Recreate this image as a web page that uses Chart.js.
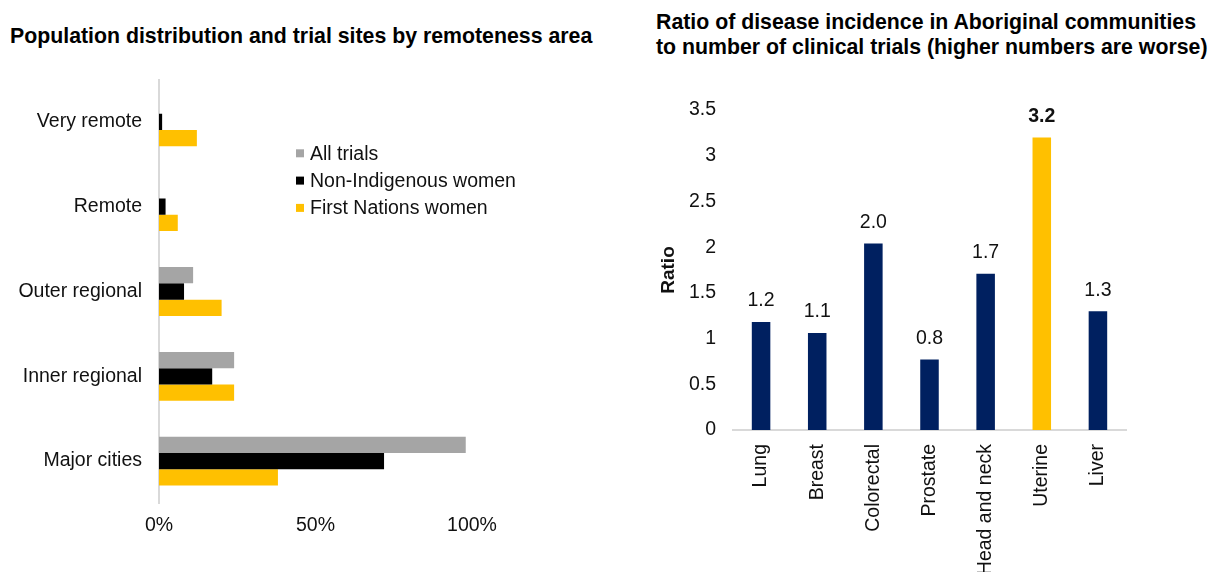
<!DOCTYPE html>
<html><head><meta charset="utf-8">
<script src="https://cdn.jsdelivr.net/npm/chart.js@4"></script>
<style>
html,body{margin:0;padding:0;background:#fff;width:1212px;height:572px;overflow:hidden;font-family:"Liberation Sans",Arial,sans-serif;}
.title{position:absolute;font-weight:bold;font-size:21.3px;line-height:25px;color:#000;white-space:nowrap;}
#t1{left:10px;top:24px;}
#t2{left:656px;top:9.5px;}
canvas{position:absolute;top:0;}
#c1{left:0;}
#c2{left:600px;}
</style></head>
<body>
<div class="title" id="t1">Population distribution and trial sites by remoteness area</div>
<div class="title" id="t2">Ratio of disease incidence in Aboriginal communities<br>to number of clinical trials (higher numbers are worse)</div>
<canvas id="c1" width="600" height="572"></canvas>
<canvas id="c2" width="612" height="572"></canvas>
<script>
// ---- Left chart data ----
const regions = ['Very remote', 'Remote', 'Outer regional', 'Inner regional', 'Major cities'];
const allTrials = [0, 0, 10.9, 24, 98];
const nonIndigenous = [1, 2.1, 8, 17, 71.9];
const firstNations = [12.1, 6, 20, 24, 38];
const seriesNames = ['All trials', 'Non-Indigenous women', 'First Nations women'];
const pctTicks = [0, 50, 100];

// ---- Right chart data ----
const cancers = ['Lung', 'Breast', 'Colorectal', 'Prostate', 'Head and neck', 'Uterine', 'Liver'];
const ratios = [1.18, 1.06, 2.04, 0.77, 1.71, 3.2, 1.3];
const ratioTicks = [0, 0.5, 1, 1.5, 2, 2.5, 3, 3.5];
const highlighted = 'Uterine';

const FAMILY = '"Liberation Sans", Arial, sans-serif';
const TXT = '#111';
const GRAY = '#A5A5A5', BLACK = '#000000', YELLOW = '#FFC000', NAVY = '#002060', AXIS = '#D9D9D9';

const legendPlugin = {
  id: 'customLegend',
  afterDraw(chart) {
    const ctx = chart.ctx;
    const rowsY = [153.3, 180.6, 207.9];
    ctx.save();
    ctx.font = '19.5px ' + FAMILY;
    ctx.textBaseline = 'middle';
    ctx.textAlign = 'left';
    chart.data.datasets.forEach((ds, i) => {
      ctx.fillStyle = ds.backgroundColor;
      ctx.fillRect(296, rowsY[i] - 4, 8, 8);
      ctx.fillStyle = TXT;
      ctx.fillText(ds.label, 310, rowsY[i] + 1);
    });
    ctx.restore();
  }
};

new Chart(document.getElementById('c1'), {
  type: 'bar',
  data: {
    labels: regions,
    datasets: [
      { label: seriesNames[0], data: allTrials, backgroundColor: GRAY },
      { label: seriesNames[1], data: nonIndigenous, backgroundColor: BLACK },
      { label: seriesNames[2], data: firstNations, backgroundColor: YELLOW }
    ]
  },
  options: {
    indexAxis: 'y',
    responsive: false,
    maintainAspectRatio: false,
    animation: false,
    layout: { padding: { left: 9, top: 79.5, right: 128, bottom: 28.5 } },
    plugins: { legend: { display: false }, tooltip: { enabled: false } },
    datasets: { bar: { categoryPercentage: 0.576, barPercentage: 1 } },
    scales: {
      x: {
        min: pctTicks[0], max: pctTicks[pctTicks.length - 1],
        afterBuildTicks(s) { s.ticks = pctTicks.map(v => ({ value: v })); },
        ticks: { callback: v => v + '%', padding: 10, color: TXT, font: { size: 19.5, family: FAMILY } },
        grid: { display: false, drawTicks: false },
        border: { display: false },
        afterFit(s) { s.height = 40; }
      },
      y: {
        ticks: { padding: 17, color: TXT, font: { size: 19.5, family: FAMILY } },
        grid: { display: false, drawTicks: false },
        border: { display: true, color: AXIS, width: 2 },
        afterFit(s) { s.width = 150; }
      }
    }
  },
  plugins: [legendPlugin]
});

const valueLabels = {
  id: 'valueLabels',
  afterDatasetsDraw(chart) {
    const ctx = chart.ctx;
    const meta = chart.getDatasetMeta(0);
    ctx.save();
    ctx.textAlign = 'center';
    ctx.textBaseline = 'middle';
    ctx.fillStyle = TXT;
    meta.data.forEach((el, i) => {
      const bold = chart.data.labels[i] === highlighted;
      ctx.font = (bold ? 'bold ' : '') + '19.5px ' + FAMILY;
      ctx.fillText(chart.data.datasets[0].data[i].toFixed(1), el.x, el.y - 21);
    });
    ctx.restore();
  }
};

new Chart(document.getElementById('c2'), {
  type: 'bar',
  data: {
    labels: cancers,
    datasets: [{
      label: 'Ratio',
      data: ratios,
      backgroundColor: cancers.map(c => c === highlighted ? YELLOW : NAVY)
    }]
  },
  options: {
    responsive: false,
    maintainAspectRatio: false,
    animation: false,
    layout: { padding: { left: 0, top: 110, right: 86, bottom: 0 } },
    plugins: { legend: { display: false }, tooltip: { enabled: false } },
    datasets: { bar: { categoryPercentage: 1, barPercentage: 0.33 } },
    scales: {
      x: {
        ticks: { minRotation: 90, maxRotation: 90, autoSkip: false, padding: 14, color: TXT, font: { size: 19.5, family: FAMILY } },
        grid: { display: false, drawTicks: false },
        border: { display: true, color: AXIS, width: 2 },
        afterFit(s) { s.height = 142; }
      },
      y: {
        min: ratioTicks[0], max: ratioTicks[ratioTicks.length - 1],
        afterBuildTicks(s) { s.ticks = ratioTicks.map(v => ({ value: v })); },
        ticks: { callback: v => String(v), padding: 17, color: TXT, font: { size: 19.5, family: FAMILY } },
        grid: { display: false, drawTicks: false },
        border: { display: false },
        title: { display: true, text: 'Ratio', color: TXT, font: { size: 19, weight: 'bold', family: FAMILY }, padding: { top: 57.6, bottom: 0 } },
        afterFit(s) { s.width = 133; }
      }
    }
  },
  plugins: [valueLabels]
});
</script>
</body></html>
